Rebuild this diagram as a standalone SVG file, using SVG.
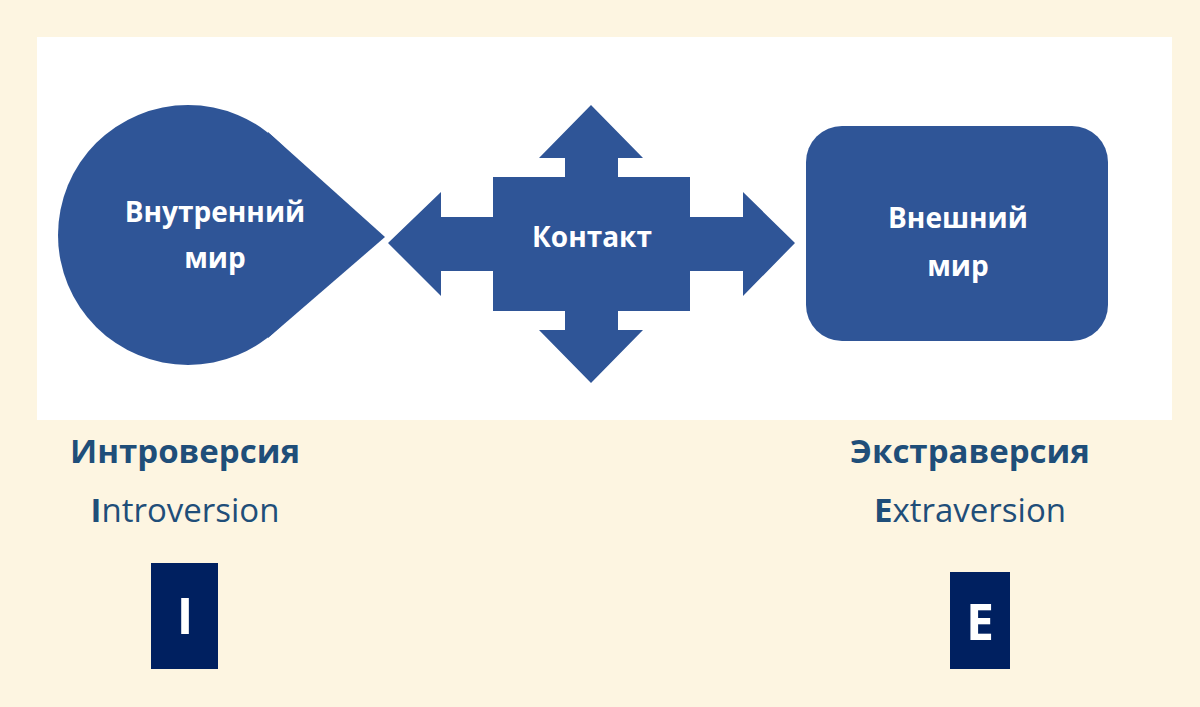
<svg xmlns="http://www.w3.org/2000/svg" width="1200" height="707" viewBox="0 0 1200 707">
<style>
.s{fill:#2f5597}
.w{fill:#fff;font-family:"Open Sans","DejaVu Sans",sans-serif;font-weight:bold;font-size:28px;text-anchor:middle}
.h{fill:#1f4e79;font-family:"Open Sans","DejaVu Sans",sans-serif;text-anchor:middle;font-size:33px}
.b{fill:#002060}
.l{fill:#fff;font-family:"Open Sans","DejaVu Sans",sans-serif;font-weight:bold;font-size:50px;text-anchor:middle}
</style>
<rect width="1200" height="707" fill="#fdf5e1"/>
<rect x="37" y="37" width="1135" height="383" fill="#fff"/>
<g id="inner">
<circle class="s" cx="188" cy="235" r="130"/>
<polygon class="s" points="385,237 268,132 268,338"/>
<text class="w" x="215" y="222">Внутренний</text>
<text class="w" x="215" y="268">мир</text>
</g>
<g id="contact">
<polygon class="s" points="591,105 643,158 618,158 618,177 690,177 690,217 743,217 743,192 795,243 743,296 743,271 690,271 690,311 618,311 618,330 643,330 591,383 539,330 565,330 565,311 493,311 493,271 441,271 441,296 388,243 441,192 441,217 493,217 493,177 565,177 565,158 539,158"/>
<text class="w" x="592" y="247">Контакт</text>
</g>
<g id="outer">
<rect class="s" x="806" y="126" width="302" height="215" rx="36"/>
<text class="w" x="958" y="228">Внешний</text>
<text class="w" x="958" y="276">мир</text>
</g>
<g id="connectors"></g>
<g id="intro">
<text class="h" x="185" y="463" font-weight="bold">Интроверсия</text>
<text class="h" x="185" y="522"><tspan font-weight="bold">I</tspan>ntroversion</text>
<rect class="b" x="151" y="563" width="67" height="106"/>
<text class="l" x="185" y="634">I</text>
</g>
<g id="extra">
<text class="h" x="970" y="463" font-weight="bold">Экстраверсия</text>
<text class="h" x="970" y="522"><tspan font-weight="bold">E</tspan>xtraversion</text>
<rect class="b" x="950" y="572" width="60" height="97"/>
<text class="l" x="980" y="640">E</text>
</g>
</svg>
